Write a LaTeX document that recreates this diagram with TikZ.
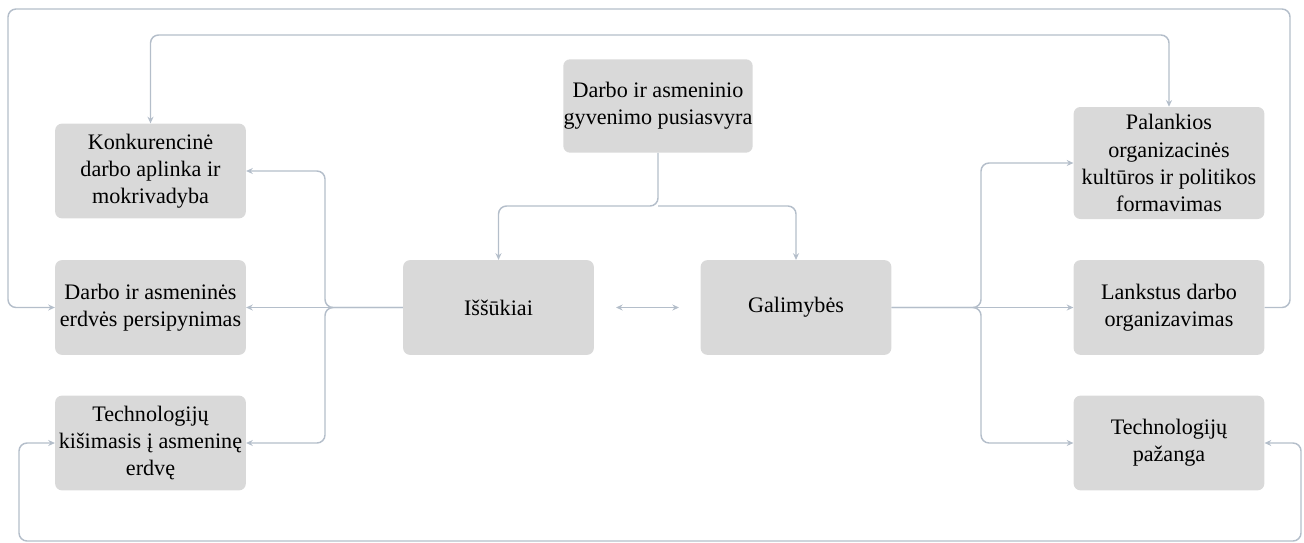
\documentclass[tikz,border=0pt]{standalone}
\usepackage{fontspec}
\setmainfont{Liberation Serif}
\usepackage{tikz}
\usetikzlibrary{arrows, arrows.meta, positioning}

\definecolor{boxgray}{RGB}{217,217,217}
\definecolor{linkgray}{RGB}{180,190,202}

\tikzset{
  topicbox/.style={fill=boxgray, rounded corners=5pt, minimum width=143pt, minimum height=71pt,
    align=center, inner sep=0pt, font=\fontsize{16.6}{20.3}\selectfont},
  link/.style={draw=linkgray, line width=1.1pt, rounded corners=6pt,
    arrows={-Stealth[length=5pt,width=4.5pt]}},
  dlink/.style={link, arrows={Stealth[length=5pt,width=4.5pt]-Stealth[length=5pt,width=4.5pt]}},
}

\begin{document}
\begin{tikzpicture}[x=0.75pt,y=0.75pt,yscale=-1,xscale=1]
%set diagram left start at 0, and has height of 543
\path [use as bounding box] (0,0) rectangle (1304,543);

% Boxes
\node [topicbox, minimum width=142pt, minimum height=70pt] (balance) at (658,106) {Darbo ir asmeninio\\gyvenimo pusiasvyra};
\node [topicbox] (challenges) at (498.5,307.5) {Iššūkiai};
\node [topicbox] (chances) at (796,307.5) {Galimybės};
% left column
\node [topicbox] (competition) at (150.5,171) {Konkurencinė\\darbo aplinka ir\\mokrivadyba};
\node [topicbox] (overlap) at (150.5,307.5) {Darbo ir asmeninės\\erdvės persipynimas};
\node [topicbox] (intrusion) at (150.5,443) {Technologijų\\kišimasis į asmeninę\\erdvę};
% right column
\node [topicbox, minimum height=84pt] (culture) at (1169,163) {Palankios\\organizacinės\\kultūros ir politikos\\formavimas};
\node [topicbox] (flexible) at (1169,307.5) {Lankstus darbo\\organizavimas};
\node [topicbox] (progress) at (1169,443) {Technologijų\\pažanga};

% Branch points
\coordinate (topsplit) at (658,206);
\coordinate (leftsplit) at (325,307.5);
\coordinate (rightsplit) at (981,307.5);
\coordinate (toprail) at (0,35);
\coordinate (outerR) at (1290,9);
\coordinate (outerL) at (8,9);
\coordinate (bottomR) at (1301,541);
\coordinate (bottomL) at (19,541);
\coordinate (midA) at (616,307.5);
\coordinate (midB) at (679,307.5);

% Connectors
\draw [link] (balance.south) -- (topsplit) -| (challenges.north);
\draw [link] (topsplit) -| (chances.north);

\draw [link] (challenges.west) -- (leftsplit) |- (competition.east);
\draw [link] (challenges.west) -- (overlap.east);
\draw [link] (challenges.west) -- (leftsplit) |- (intrusion.east);

\draw [link] (chances.east) -- (rightsplit) |- (culture.west);
\draw [link] (chances.east) -- (flexible.west);
\draw [link] (chances.east) -- (rightsplit) |- (progress.west);

\draw [dlink] (midA) -- (midB);

\draw [dlink] (competition.north) -- (competition.north |- toprail) -- (culture.north |- toprail) -- (culture.north);

\draw [link] (flexible.east) -| (outerR) -- (outerL) |- (overlap.west);

\draw [dlink] (progress.east) -| (bottomR) -- (bottomL) |- (intrusion.west);

\end{tikzpicture}
\end{document}
